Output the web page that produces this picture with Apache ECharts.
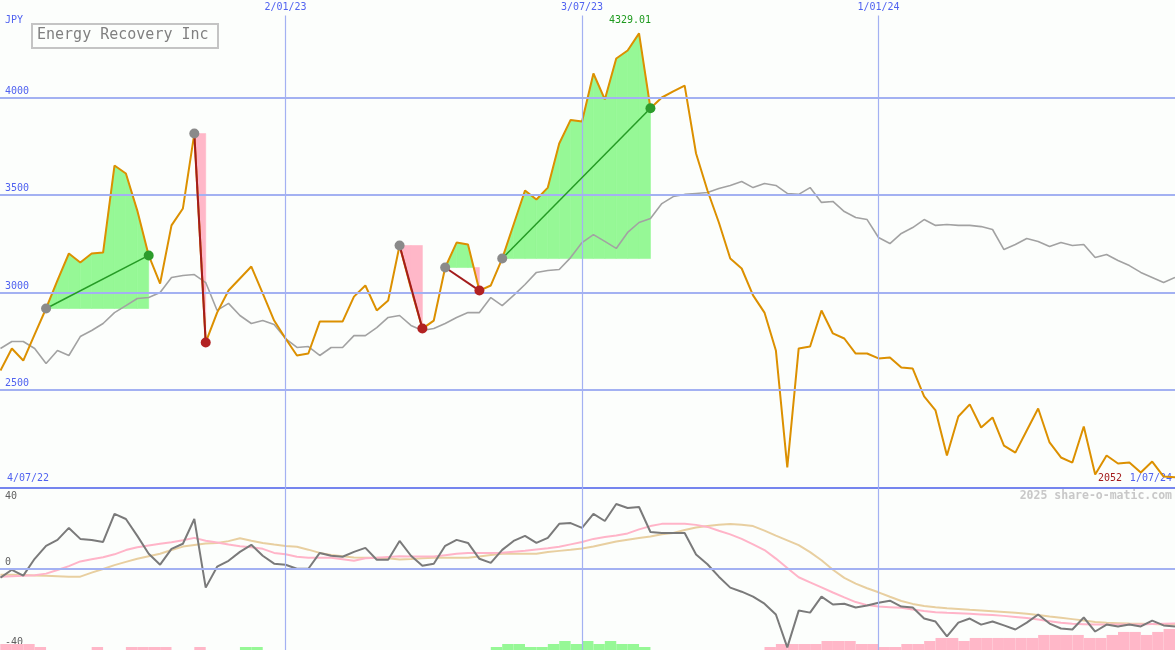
<!DOCTYPE html>
<html><head><meta charset="utf-8">
<script src="https://cdn.jsdelivr.net/npm/echarts@6/dist/echarts.min.js"></script>
<style>html,body{margin:0;padding:0;background:#fcfefc}#c{width:1175px;height:650px}</style>
</head><body><div id="c"></div>
<script>
// ---------- data (weekly, week index 1..104) ----------
const titleText = 'Energy Recovery Inc';
const currency = 'JPY';
const price = [2600,2713,2651,2785,2918,3062,3200,3154,3200,3205,
3651,3610,3420,3190,3046,3344,3431,3815,2744,2897,
3010,3072,3133,2995,2856,2764,2677,2687,2851,2851,
2851,2979,3036,2908,2959,3241,3020,2815,2856,3128,
3256,3246,3010,3036,3174,3349,3523,3477,3538,3764,
3885,3877,4123,3990,4200,4241,4329.01,3945,4000,4031,
4061,3713,3523,3359,3174,3123,2985,2897,2703,2103,
2713,2723,2908,2790,2764,2687,2687,2662,2667,2615,
2610,2467,2395,2164,2364,2426,2308,2359,2215,2179,
2292,2405,2231,2154,2128,2313,2067,2164,2123,2128,
2077,2133,2056,2052];
const avgLine = [2713,2749,2749,2713,2636,2703,2677,2774,2805,2841,
2897,2933,2969,2974,3000,3077,3087,3092,3051,2908,
2944,2882,2841,2856,2836,2764,2718,2723,2677,2718,
2718,2779,2779,2820,2872,2882,2831,2805,2815,2841,
2872,2897,2897,2974,2933,2985,3041,3103,3113,3118,
3179,3256,3297,3262,3226,3308,3359,3380,3456,3492,
3503,3508,3513,3533,3549,3569,3538,3559,3549,3508,
3503,3538,3462,3467,3415,3385,3374,3282,3251,3303,
3333,3374,3344,3349,3344,3344,3338,3323,3220,3246,
3277,3262,3236,3256,3241,3246,3179,3195,3164,3138,
3103,3077,3051,3077];
const momentum = [-4.4,-0.5,-3.4,4.9,11.3,14.2,20.1,14.7,14.2,13.2,
27.0,24.5,16.2,7.4,2.0,9.8,12.3,24.5,-9.3,1.0,
3.9,8.3,11.8,6.4,2.5,2.0,0,0,7.8,6.4,
5.9,8.3,10.3,4.4,4.4,13.7,6.4,1.5,2.5,11.3,
14.2,12.7,4.9,2.9,9.3,13.7,16.2,12.7,15.2,22.1,
22.5,20.1,27.0,23.5,31.9,29.9,30.4,18.1,17.6,17.6,
17.6,7.0,2.2,-3.9,-9.3,-11.3,-13.7,-17.2,-22.5,-38.7,
-20.6,-21.6,-13.7,-17.6,-17.2,-19.1,-18.1,-16.7,-15.7,-18.6,
-19.1,-24.5,-26.0,-33.3,-26.5,-24.5,-27.5,-26.0,-27.9,-29.9,
-26.5,-22.5,-27.0,-29.4,-29.9,-24.0,-30.9,-27.5,-28.4,-27.5,
-28.4,-25.5,-27.9,-28.4];
const momFast = [-3.9,-3.7,-3.5,-3.2,-2.4,-0.6,1.3,3.6,4.7,5.7,
7.1,9.2,10.6,11.5,12.3,13.1,14.0,15.2,13.8,12.9,
11.9,11.1,10.6,9.8,7.8,7.1,5.9,5.4,5.4,5.4,
4.7,3.9,5.2,5.4,5.8,6.2,6.0,6.0,6.0,6.7,
7.4,7.8,7.8,7.8,7.9,8.4,8.9,9.5,10.1,10.8,
12.0,13.2,14.7,15.6,16.4,17.4,19.4,21.0,22.1,22.1,
22.1,21.6,20.6,18.7,16.9,14.7,12.0,9.2,5.0,0.4,
-4.2,-6.7,-9.2,-11.7,-14.1,-16.4,-17.9,-18.6,-18.9,-19.2,
-20.1,-20.8,-21.4,-21.7,-21.9,-22.2,-22.5,-22.8,-23.2,-23.7,
-24.2,-25.0,-25.8,-26.6,-27.1,-27.3,-27.5,-27.5,-27.5,-27.5,
-27.4,-27.2,-27.1,-27.0];
const momSlow = [-2.9,-3.0,-3.1,-3.3,-3.5,-3.7,-3.9,-3.9,-1.9,-0.1,
1.8,3.4,4.9,6.2,7.4,9.2,10.9,11.7,12.4,12.7,
13.6,15.0,13.8,12.7,11.9,11.2,10.8,9.4,7.8,6.8,
6.1,5.5,5.4,5.4,5.2,4.5,4.8,5.2,5.4,5.4,
5.4,5.4,6.0,6.8,7.4,7.4,7.4,7.4,8.3,8.8,
9.3,10.0,11.0,12.2,13.4,14.3,15.1,15.9,17.0,17.6,
19.1,20.3,21.0,21.7,22.0,21.7,21.0,18.8,16.3,14.0,
11.6,8.2,4.2,-0.5,-4.5,-7.3,-9.6,-11.6,-13.8,-15.9,
-17.3,-18.3,-18.9,-19.4,-19.8,-20.2,-20.5,-20.9,-21.3,-21.7,
-22.2,-22.8,-23.5,-24.1,-24.8,-25.5,-26.2,-26.6,-26.8,-27.0,
-27.1,-27.2,-27.4,-27.5];
// weekly strength bars, week 0..103 (bar spans week k to k+1); + green, - pink
const strength = [-2,-2,-2,-2,-1,0,0,0,0,-1,
0,0,-1,-1,-1,-1,0,0,-1,0,
0,0,1,1,0,0,0,0,0,0,
0,0,0,0,0,0,0,0,0,0,
0,0,0,0,1,2,2,1,1,2,
3,2,3,2,3,2,2,1,0,0,
0,0,0,0,0,0,0,0,-1,-2,
-2,-2,-2,-3,-3,-3,-2,-2,-1,-1,
-2,-2,-3,-4,-4,-3,-4,-4,-4,-4,
-4,-4,-5,-5,-5,-5,-4,-4,-5,-6,
-6,-5,-6,-7];
// trades: [start week, end week]
const trades = [[5,14],[18,19],[36,38],[40,43],[45,58]];
const tickWeeks = [26,52,78];
const tickLabels = ['2/01/23','3/07/23','1/01/24'];
const startLabel = '4/07/22';
const endLabel = '1/07/24';
const priceTicks = [2500,3000,3500,4000];
const watermark = '2025 share-o-matic.com';

// ---------- style ----------
const MONO = '"DejaVu Sans Mono", monospace';
const BLUE = '#5062f0';
const GRID = '#a3b1f2';
const GRID_DARK = '#7585ee';
const GREEN_FILL = '#96f896';
const PINK_FILL = '#ffb7c8';
const X_MIN = 0.96, X_MAX = 104;
const LINE_TOP = 4420;

const pts = arr => arr.map((v, i) => [i + 1, v]);

// fill polygons between price and the entry level for each trade
const polys = [];
trades.forEach(([s, e]) => {
  const L = price[s - 1];
  for (let k = s; k < e; k++) {
    const ya = price[k - 1], yb = price[k];
    const a = ya - L, b = yb - L;
    if (a >= 0 && b >= 0) polys.push({c: GREEN_FILL, p: [[k, L], [k, ya], [k + 1, yb], [k + 1, L]]});
    else if (a <= 0 && b <= 0) polys.push({c: PINK_FILL, p: [[k, L], [k, ya], [k + 1, yb], [k + 1, L]]});
    else {
      const xc = k + a / (a - b);
      const c1 = a > 0 ? GREEN_FILL : PINK_FILL, c2 = a > 0 ? PINK_FILL : GREEN_FILL;
      polys.push({c: c1, p: [[k, L], [k, ya], [xc, L]]});
      polys.push({c: c2, p: [[xc, L], [k + 1, yb], [k + 1, L]]});
    }
  }
});

const chart = echarts.init(document.getElementById('c'), null, {renderer: 'canvas'});
const option = {
  animation: false,
  backgroundColor: '#fcfefc',
  grid: [
    {left: 0, right: 0, top: 0, height: 487.5},
    {left: 0, right: 0, top: 487.5, height: 162.5}
  ],
  xAxis: [
    {type: 'value', gridIndex: 0, min: X_MIN, max: X_MAX, show: false},
    {type: 'value', gridIndex: 1, min: X_MIN, max: X_MAX, show: false}
  ],
  yAxis: [
    {type: 'value', gridIndex: 0, min: 2000, max: 4500, interval: 500,
     axisLine: {show: false}, axisTick: {show: false}, splitLine: {show: false},
     axisLabel: {inside: true, margin: 5, verticalAlign: 'middle',
       formatter: v => priceTicks.includes(v) ? '{a|' + v + '}' : '',
       rich: {a: {color: BLUE, fontSize: 10, fontFamily: MONO, padding: [0, 0, 13, 0]}}}},
    {type: 'value', gridIndex: 1, min: -40, max: 40, interval: 40,
     axisLine: {show: false}, axisTick: {show: false}, splitLine: {show: false},
     axisLabel: {inside: true, margin: 5, verticalAlign: 'middle',
       formatter: v => v === 40 ? '{t|40}' : (v === 0 ? '{u|0}' : '{w|' + v + '}'),
       rich: {
         t: {color: '#606060', fontSize: 10, fontFamily: MONO, padding: [17, 0, 0, 0]},
         u: {color: '#606060', fontSize: 10, fontFamily: MONO, padding: [0, 0, 12, 0]},
         w: {color: '#606060', fontSize: 10, fontFamily: MONO, padding: [0, 0, 16, 0]}
       }}},
    {type: 'value', gridIndex: 1, min: 0, max: 54, show: false}
  ],
  series: [
    // reference lines main panel
    {type: 'line', xAxisIndex: 0, yAxisIndex: 0, data: [], z: 1, clip: false, silent: true,
     markLine: {silent: true, symbol: ['none', 'none'], animation: false,
       data: [
         ...priceTicks.map(v => ({yAxis: v, lineStyle: {color: GRID, width: 2, type: 'solid'}, label: {show: false}})),
         {yAxis: 2000, lineStyle: {color: GRID_DARK, width: 2, type: 'solid'}, label: {show: false}},
         ...tickWeeks.map((w, i) => [
           {coord: [w, LINE_TOP], name: tickLabels[i], lineStyle: {color: GRID, width: 1.2, type: 'solid'},
            label: {show: true, position: 'start', formatter: '{b}', color: BLUE, fontSize: 10, fontFamily: MONO, distance: 3}},
           {coord: [w, 2000]}
         ])
       ]}},
    // reference lines lower panel
    {type: 'line', xAxisIndex: 1, yAxisIndex: 1, data: [], z: 1, clip: false, silent: true,
     markLine: {silent: true, symbol: ['none', 'none'], animation: false, label: {show: false},
       data: [
         {yAxis: 0, lineStyle: {color: GRID, width: 2, type: 'solid'}},
         ...tickWeeks.map(w => ({xAxis: w, lineStyle: {color: GRID, width: 1.2, type: 'solid'}}))
       ]}},
    // trade fills
    {type: 'custom', xAxisIndex: 0, yAxisIndex: 0, z: 2, silent: true,
     data: polys.map((p, i) => [p.p[0][0], p.p[0][1], i]),
     encode: {x: 0, y: 1},
     renderItem: (params, api) => {
       const poly = polys[params.dataIndex];
       return {type: 'polygon', shape: {points: poly.p.map(q => api.coord(q))},
               style: {fill: poly.c, stroke: poly.c, lineWidth: 0.6}};
     }},
    // moving average
    {type: 'line', xAxisIndex: 0, yAxisIndex: 0, z: 3, data: pts(avgLine), symbol: 'none',
     lineStyle: {color: '#a2a2a2', width: 1.6}, silent: true},
    // price
    {type: 'line', xAxisIndex: 0, yAxisIndex: 0, z: 4, data: pts(price), symbol: 'none',
     lineStyle: {color: '#dc9000', width: 2}, silent: true,
     markPoint: {symbol: 'circle', symbolSize: 0, silent: true, animation: false,
       data: [{type: 'max', valueDim: 'y'}],
       label: {show: true, position: 'top', distance: 8, offset: [-9, 0],
         formatter: p => Number(p.value).toFixed(2), color: '#1e9a1e', fontSize: 10, fontFamily: MONO}}},
    // trade lines and markers
    {type: 'custom', xAxisIndex: 0, yAxisIndex: 0, z: 5, silent: true,
     data: trades.map((t, i) => [t[0], price[t[0] - 1], i]),
     encode: {x: 0, y: 1},
     renderItem: (params, api) => {
       const [s, e] = trades[params.dataIndex];
       const p0 = api.coord([s, price[s - 1]]), p1 = api.coord([e, price[e - 1]]);
       const up = price[e - 1] > price[s - 1];
       return {type: 'group', children: [
         {type: 'line', shape: {x1: p0[0], y1: p0[1], x2: p1[0], y2: p1[1]},
          style: {stroke: up ? '#259b25' : '#a31c1c', lineWidth: up ? 1.5 : 2}},
         {type: 'circle', shape: {cx: p0[0], cy: p0[1], r: 5}, style: {fill: '#8a8a8a'}},
         {type: 'circle', shape: {cx: p1[0], cy: p1[1], r: 5}, style: {fill: up ? '#2c9c2c' : '#b22222'}}
       ]};
     }},
    // strength bars
    {type: 'custom', xAxisIndex: 1, yAxisIndex: 2, z: 2, silent: true,
     data: strength.map((v, i) => [i, Math.abs(v), v]),
     encode: {x: 0, y: 1},
     renderItem: (params, api) => {
       const v = strength[params.dataIndex];
       if (!v) return null;
       const a = api.coord([params.dataIndex, 0]);
       const b = api.coord([params.dataIndex + 1, Math.abs(v)]);
       return {type: 'rect', shape: {x: a[0], y: b[1], width: b[0] - a[0], height: a[1] - b[1]},
               style: {fill: v > 0 ? GREEN_FILL : PINK_FILL}};
     }},
    {type: 'line', xAxisIndex: 1, yAxisIndex: 1, z: 3, data: pts(momSlow), symbol: 'none',
     lineStyle: {color: '#e8cfa0', width: 2}, silent: true},
    {type: 'line', xAxisIndex: 1, yAxisIndex: 1, z: 3, data: pts(momFast), symbol: 'none',
     lineStyle: {color: '#ffb4c8', width: 2}, silent: true},
    {type: 'line', xAxisIndex: 1, yAxisIndex: 1, z: 4, data: pts(momentum), symbol: 'none',
     lineStyle: {color: '#7a7a7a', width: 2}, silent: true}
  ],
  graphic: [
    {type: 'text', left: 5, top: 15, style: {text: currency, fill: BLUE, font: '10px ' + MONO}},
    {type: 'rect', shape: {x: 32, y: 24, width: 186, height: 24}, style: {fill: 'none', stroke: '#c4c4c4', lineWidth: 2}},
    {type: 'text', left: 37, top: 28, style: {text: titleText, fill: '#808080', font: '15px ' + MONO}},
    {type: 'text', left: 7, top: 473, style: {text: startLabel, fill: BLUE, font: '10px ' + MONO}},
    {type: 'text', right: 3, top: 473, style: {text: endLabel, fill: BLUE, font: '10px ' + MONO}},
    {type: 'text', right: 53, top: 473, style: {text: String(price[price.length - 1]), fill: '#a31c1c', font: '10px ' + MONO}},
    {type: 'text', right: 3, top: 490, style: {text: watermark, fill: '#c8c8c8', font: 'bold 11.5px ' + MONO}}
  ]
};
chart.setOption(option);
</script></body></html>
